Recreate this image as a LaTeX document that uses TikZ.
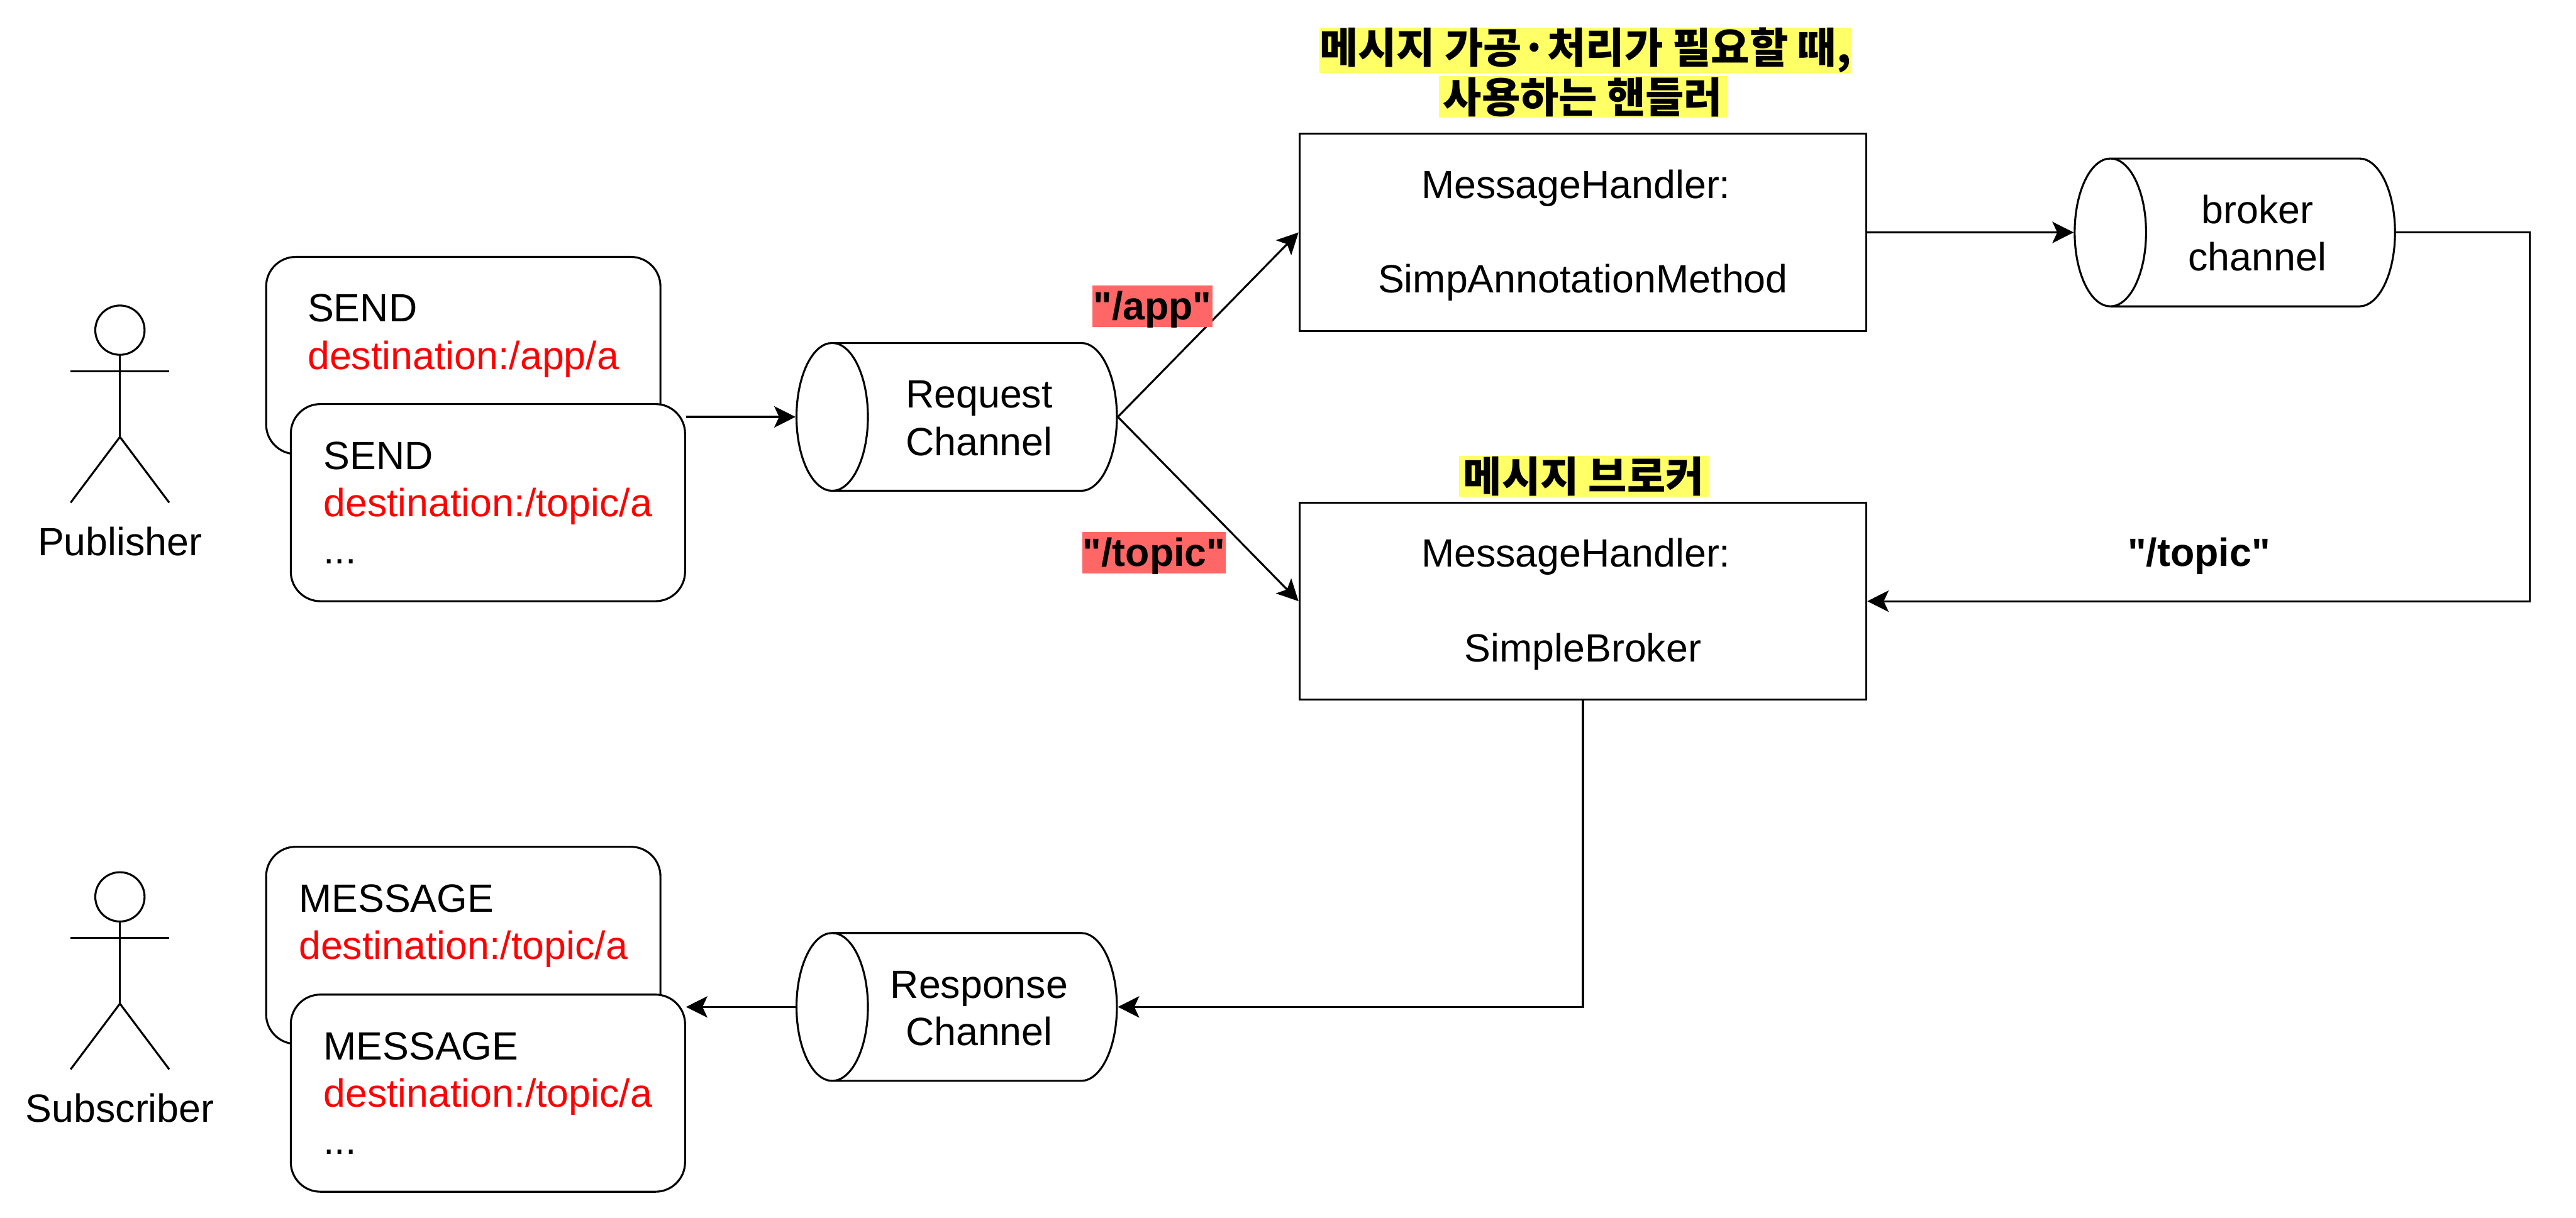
\documentclass[tikz,border=0pt]{standalone}
\usepackage{fontspec}
\setmainfont{Liberation Sans}
\newfontfamily\cjk{Noto Sans CJK KR}
\newfontfamily\straight{Liberation Sans}
\usetikzlibrary{arrows.meta, shapes.geometric}
\definecolor{notered}{HTML}{FF6666}
\definecolor{noteyellow}{HTML}{FFFF66}
\newcommand{\chantext}[2]{\rule{0pt}{18.2pt}\hspace*{5pt}#1\\\hspace*{5pt}#2}
\newcommand{\handlertext}[1]{\rule{0pt}{21pt}MessageHandler:\kern8.5pt\\~\\#1}
\tikzset{
  every node/.style={font=\fontsize{24}{28.8}\selectfont},
  link/.style={line width=1.2pt, -{Stealth[length=13pt, width=13pt, inset=3pt]}},
  msgbox/.style={draw, line width=1.2pt, fill=white, rounded corners=18pt, minimum width=240pt, minimum height=120pt, inner sep=0pt, align=left},
  handlerbox/.style={draw, line width=1.2pt, fill=white, minimum width=345pt, minimum height=120pt, inner sep=0pt, align=center},
  channel/.style={draw, line width=1.2pt, fill=white, cylinder, shape border rotate=180, aspect=0.92, minimum height=195pt, minimum width=90pt, inner sep=0pt, align=center},
  tag/.style={inner sep=0pt, text height=20.4pt, text depth=4.2pt, minimum height=25.4pt, font=\fontsize{24}{28.8}\selectfont\bfseries\straight},
  cjktag/.style={inner sep=0pt, minimum height=25pt, fill=noteyellow, font=\fontsize{25.5}{28.8}\selectfont\bfseries\cjk}
}
\begin{document}
\begin{tikzpicture}[x=1pt, y=-1pt]
        \useasboundingbox (0, 0) rectangle (1568, 741.3);

        % Draw the two actors
        \foreach \ay/\aname in {186/Publisher, 531/Subscriber} {
            \draw[line width=1.2pt] (73, \ay+15) circle [radius=15pt];
            \draw[line width=1.2pt] (73, \ay+30) -- (73, \ay+80);
            \draw[line width=1.2pt] (43, \ay+40) -- (103, \ay+40);
            \draw[line width=1.2pt] (43, \ay+120) -- (73, \ay+80) -- (103, \ay+120);
            \node (\aname) at (73, \ay+143.5) {\aname};
        }

        % Define message boxes, the back one first
        \node[msgbox] (send1) at (282, 216.4) {SEND\\\textcolor{red}{destination:/app/a}\\~};
        \node[msgbox] (send2) at (297, 306) {SEND\\\textcolor{red}{destination:/topic/a}\\...};
        \node[msgbox] (msg1) at (282, 575.5) {MESSAGE\\\textcolor{red}{destination:/topic/a}\\~};
        \node[msgbox] (msg2) at (297, 665.5) {MESSAGE\\\textcolor{red}{destination:/topic/a}\\...};

        % Define channels
        \node[channel] (request) at (593.5, 253.8) {\chantext{Request}{Channel}};
        \node[channel] (response) at (593.5, 613) {\chantext{Response}{Channel}};
        \node[channel] (broker) at (1371.5, 141.5) {\chantext{broker}{channel}};

        % Define handlers
        \node[handlerbox] (annotation) at (963.5, 141.5) {\handlertext{SimpAnnotationMethod}};
        \node[handlerbox] (simple) at (963.5, 366) {\handlertext{SimpleBroker}};

        % Draw connectors
        \draw[link] (send2.east |- request.west) -- (request.west);
        \draw[link] (request.east) -- (annotation.west);
        \draw[link] (request.east) -- (simple.west);
        \draw[link] (annotation.east) -- (broker.west);
        \draw[link] (broker.east) -| (1540, 366) -- (simple.east);
        \draw[link] (simple.south) |- (response.east);
        \draw[link] (response.west) -- (msg2.east |- response.west);

        % Label routes
        \node[tag, fill=notered, minimum width=73pt] (appnote) at (701.5, 186.5) {"/app"};
        \node[tag, fill=notered, minimum width=87pt] (topicnote) at (702.5, 336.5) {"/topic"};
        \node[tag] (brokernote) at (1338.5, 336.5) {"/topic"};

        % Label handlers
        \node[cjktag, minimum width=324pt] (usenote) at (965, 30.7) {메시지 가공·처리가 필요할 때,};
        \node[cjktag, minimum width=175pt] (usenote2) at (963.5, 59) {사용하는 핸들러};
        \node[cjktag, minimum width=152pt] (brokertag) at (964, 290) {메시지 브로커};
\end{tikzpicture}
\end{document}
